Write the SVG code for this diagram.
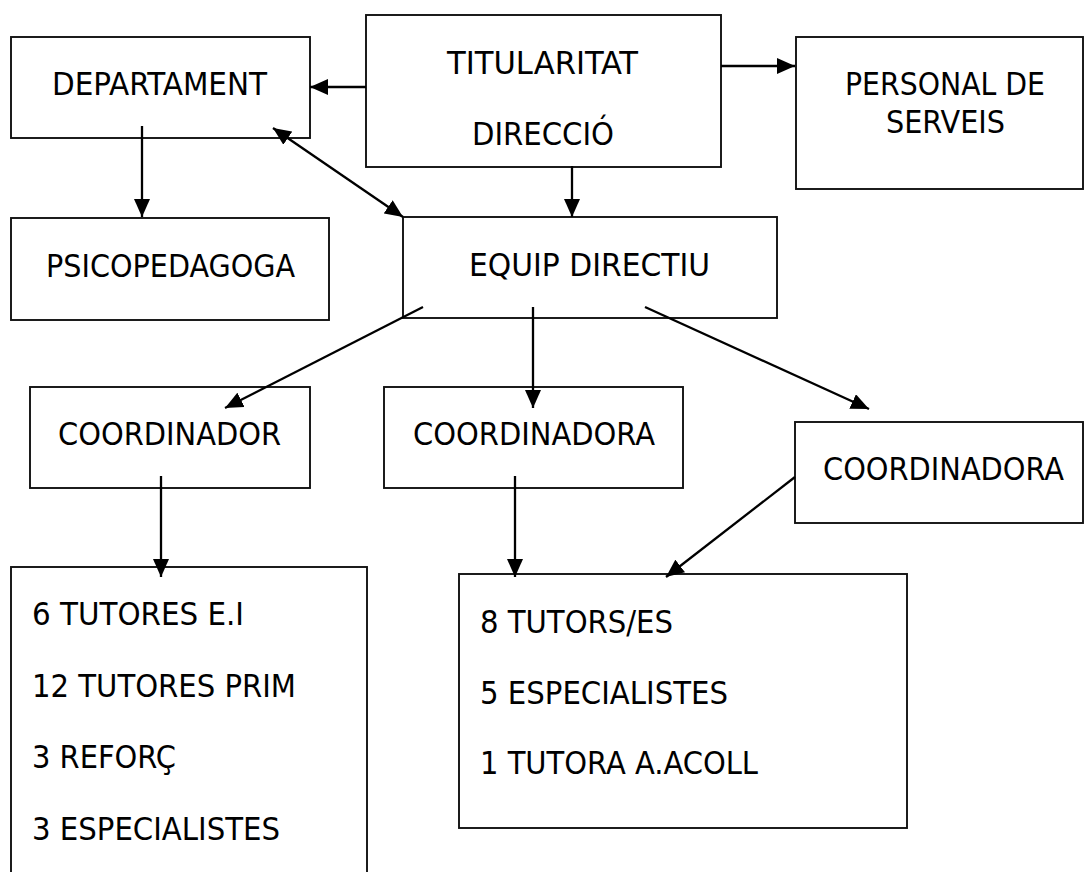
<svg xmlns="http://www.w3.org/2000/svg" width="1084" height="872" viewBox="0 0 1084 872">
<style>
.box{fill:#fff;stroke:#111;stroke-width:1.9}
.t{font-family:"DejaVu Sans Condensed","DejaVu Sans","Liberation Sans",sans-serif;font-size:32px;fill:#000}
.c{stroke:#000;stroke-width:2.3;fill:none;marker-end:url(#ah)}
</style>
<defs>
<marker id="ah" markerUnits="userSpaceOnUse" markerWidth="18" markerHeight="16" refX="18" refY="8" orient="auto">
<path d="M0,0 L18,8 L0,16 z" fill="#000"/>
</marker>
<marker id="ahs" markerUnits="userSpaceOnUse" markerWidth="18" markerHeight="16" refX="0" refY="8" orient="auto">
<path d="M18,0 L0,8 L18,16 z" fill="#000"/>
</marker>
</defs>
<rect width="1084" height="872" fill="#fff"/>
<g id="departament"><rect class="box" x="11" y="37" width="299" height="101"/><text class="t" x="52" y="95" textLength="215" lengthAdjust="spacingAndGlyphs">DEPARTAMENT</text></g>
<g id="psicopedagoga"><rect class="box" x="11" y="218" width="318" height="102"/><text class="t" x="46" y="277" textLength="249" lengthAdjust="spacingAndGlyphs">PSICOPEDAGOGA</text></g>
<g id="titularitat"><rect class="box" x="366" y="15" width="355" height="152"/><text class="t" x="447" y="74" textLength="191" lengthAdjust="spacingAndGlyphs">TITULARITAT</text><text class="t" x="472" y="145" textLength="142" lengthAdjust="spacingAndGlyphs">DIRECCIÓ</text></g>
<g id="personal"><rect class="box" x="796" y="37" width="287" height="152"/><text class="t" x="845" y="95" textLength="200" lengthAdjust="spacingAndGlyphs">PERSONAL DE</text><text class="t" x="886" y="133" textLength="119" lengthAdjust="spacingAndGlyphs">SERVEIS</text></g>
<g id="equip"><rect class="box" x="403" y="217" width="374" height="101"/><text class="t" x="469" y="276" textLength="241" lengthAdjust="spacingAndGlyphs">EQUIP DIRECTIU</text></g>
<g id="coordinador"><rect class="box" x="30" y="387" width="280" height="101"/><text class="t" x="58" y="445" textLength="223" lengthAdjust="spacingAndGlyphs">COORDINADOR</text></g>
<g id="coordinadora1"><rect class="box" x="384" y="387" width="299" height="101"/><text class="t" x="413" y="445" textLength="242" lengthAdjust="spacingAndGlyphs">COORDINADORA</text></g>
<g id="coordinadora2"><rect class="box" x="795" y="422" width="288" height="101"/><text class="t" x="823" y="480" textLength="241" lengthAdjust="spacingAndGlyphs">COORDINADORA</text></g>
<g id="grup1"><rect class="box" x="11" y="567" width="356" height="320"/>
<text class="t" x="32" y="625" textLength="212" lengthAdjust="spacingAndGlyphs">6 TUTORES E.I</text>
<text class="t" x="32" y="697" textLength="264" lengthAdjust="spacingAndGlyphs">12 TUTORES PRIM</text>
<text class="t" x="32" y="768" textLength="144" lengthAdjust="spacingAndGlyphs">3 REFORÇ</text>
<text class="t" x="32" y="840" textLength="248" lengthAdjust="spacingAndGlyphs">3 ESPECIALISTES</text></g>
<g id="grup2"><rect class="box" x="459" y="574" width="448" height="254"/>
<text class="t" x="480" y="633" textLength="193" lengthAdjust="spacingAndGlyphs">8 TUTORS/ES</text>
<text class="t" x="480" y="704" textLength="248" lengthAdjust="spacingAndGlyphs">5 ESPECIALISTES</text>
<text class="t" x="480" y="774" textLength="278" lengthAdjust="spacingAndGlyphs">1 TUTORA A.ACOLL</text></g>
<g id="connectors">
<line class="c" x1="366" y1="87" x2="310" y2="87"/>
<line class="c" x1="721" y1="66" x2="795" y2="66"/>
<line class="c" x1="142" y1="126" x2="142" y2="217"/>
<line class="c" x1="273" y1="128" x2="403" y2="217" marker-start="url(#ahs)"/>
<line class="c" x1="572" y1="166" x2="572" y2="217"/>
<line class="c" x1="423" y1="307" x2="225" y2="408"/>
<line class="c" x1="533" y1="307" x2="533" y2="408"/>
<line class="c" x1="645" y1="307" x2="869" y2="409"/>
<line class="c" x1="161" y1="476" x2="161" y2="577"/>
<line class="c" x1="515" y1="476" x2="515" y2="577"/>
<line class="c" x1="795" y1="477" x2="666" y2="577"/>
</g>
</svg>
